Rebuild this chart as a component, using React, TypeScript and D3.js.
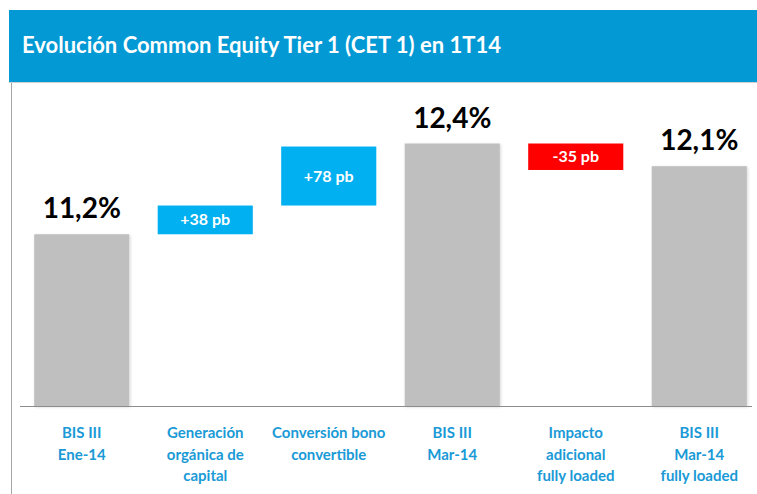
import React, { useEffect, useRef } from 'react';
import * as d3 from 'd3';

// categories (each line of the axis label)
const categories = [
  ['BIS III', 'Ene-14'],
  ['Generación', 'orgánica de', 'capital'],
  ['Conversión bono', 'convertible'],
  ['BIS III', 'Mar-14'],
  ['Impacto', 'adicional', 'fully loaded'],
  ['BIS III', 'Mar-14', 'fully loaded'],
];
const kinds = ['total', 'delta', 'delta', 'total', 'delta', 'total'];
const values = [11.2, 0.38, 0.78, 12.4, -0.35, 12.1]; // % for totals, points for deltas
const valueLabels = ['11,2%', '+38 pb', '+78 pb', '12,4%', '-35 pb', '12,1%'];
const AXIS_MIN = 8.93;

const W = 757;
const H = 494;
const FONT = 'Lato, "Open Sans", sans-serif';

export default function App() {
  const svgRef = useRef<SVGSVGElement>(null);

  useEffect(() => {
    const svg = d3.select(svgRef.current);
    svg.selectAll('*').remove();

    const defs = svg.append('defs');
    const f = defs.append('filter').attr('id', 'shadow').attr('x', '-10%').attr('y', '-10%').attr('width', '125%').attr('height', '120%');
    f.append('feDropShadow').attr('dx', 1).attr('dy', 1).attr('stdDeviation', 1.8).attr('flood-color', '#000').attr('flood-opacity', 0.16);

    // title bar
    svg.append('rect').attr('x', 9).attr('y', 10).attr('width', W - 9).attr('height', 72).attr('fill', '#0399D5');
    svg.append('line').attr('x1', 9).attr('x2', W).attr('y1', 82.5).attr('y2', 82.5).attr('stroke', '#d0d0d0');
    svg.append('text')
      .attr('x', 22).attr('y', 53)
      .attr('fill', '#fff')
      .attr('font-family', FONT)
      .attr('font-size', 22)
      .attr('font-weight', 700)
      .text('Evolución Common Equity Tier 1 (CET 1) en 1T14');

    // left frame line
    svg.append('line').attr('x1', 11.5).attr('x2', 11.5).attr('y1', 83).attr('y2', H).attr('stroke', '#a6a6a6');

    const x = d3.scaleBand<number>()
      .domain(d3.range(categories.length))
      .range([20, 761])
      .paddingInner(0.23)
      .paddingOuter(0.115);

    const y = d3.scaleLinear().domain([AXIS_MIN, 12.4]).range([406, 143.5]);

    // waterfall spans
    let cum = 0;
    const spans = values.map((v, i) => {
      if (kinds[i] === 'total') {
        cum = v;
        return { lo: AXIS_MIN, hi: v };
      }
      const start = cum;
      cum = cum + v;
      return { lo: Math.min(start, cum), hi: Math.max(start, cum) };
    });

    const g = svg.append('g');

    g.selectAll('.bar')
      .data(spans)
      .enter().append('rect')
      .attr('class', 'bar')
      .attr('x', (d, i) => x(i)!)
      .attr('width', x.bandwidth())
      .attr('y', d => y(d.hi))
      .attr('height', d => y(d.lo) - y(d.hi))
      .attr('fill', (d, i) => kinds[i] === 'total' ? '#bfbfbf' : values[i] < 0 ? '#ff0000' : '#00b0f0')
      .attr('filter', (d, i) => kinds[i] === 'total' ? 'url(#shadow)' : null);

    // baseline
    svg.append('line').attr('x1', 20).attr('x2', 752).attr('y1', 406.5).attr('y2', 406.5).attr('stroke', '#8c8c8c').attr('stroke-width', 1.2);

    // labels: totals above the bar, deltas inside the box
    g.selectAll('.val')
      .data(spans)
      .enter().append('text')
      .attr('class', 'val')
      .attr('x', (d, i) => x(i)! + x.bandwidth() / 2)
      .attr('y', (d, i) => kinds[i] === 'total' ? y(d.hi) - 16 : (y(d.hi) + y(d.lo)) / 2 + 5.5)
      .attr('text-anchor', 'middle')
      .attr('font-family', FONT)
      .attr('font-weight', 700)
      .attr('font-size', (d, i) => kinds[i] === 'total' ? 28 : 16)
      .attr('fill', (d, i) => kinds[i] === 'total' ? '#000' : '#fff')
      .text((d, i) => valueLabels[i]);

    // category labels
    const cat = g.selectAll('.cat')
      .data(categories)
      .enter().append('text')
      .attr('class', 'cat')
      .attr('text-anchor', 'middle')
      .attr('font-family', FONT)
      .attr('font-weight', 700)
      .attr('font-size', 15)
      .attr('fill', '#1a9ad6');
    cat.each(function (lines, i) {
      d3.select(this).selectAll('tspan')
        .data(lines)
        .enter().append('tspan')
        .attr('x', x(i)! + x.bandwidth() / 2)
        .attr('y', (l, j) => 438 + j * 21.5)
        .text(l => l);
    });
  }, []);

  return (
    <svg ref={svgRef} width={W} height={H} style={{ position: 'absolute', left: 0, top: 0, background: '#fff' }} />
  );
}
